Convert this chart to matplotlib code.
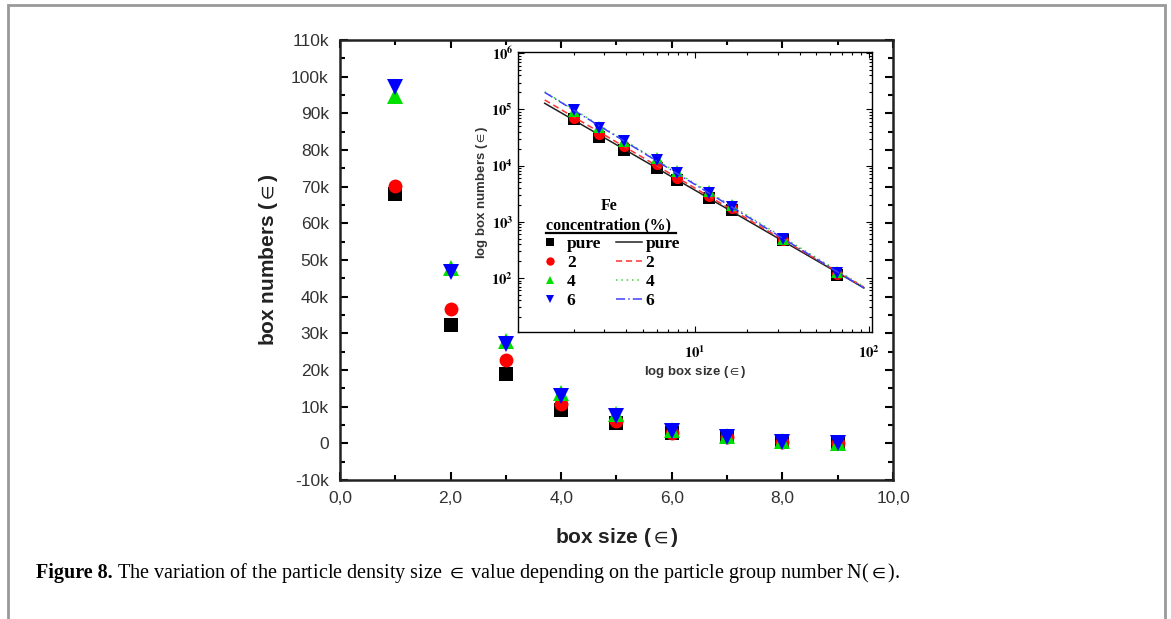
import numpy as np
import matplotlib.pyplot as plt
from matplotlib.lines import Line2D
from matplotlib.patches import Rectangle
from matplotlib.ticker import FixedLocator, MultipleLocator, FuncFormatter, LogLocator, NullFormatter

# box counting results for each Fe concentration
box_size = [1, 2, 3, 4, 5, 6, 7, 8, 9]
box_size_log = [2.0, 2.8, 3.9, 6.0, 7.9, 12.0, 16.4, 32.3, 66.0]
n_pure = [68000, 32300, 19000, 9000, 5500, 2700, 1650, 470, 115]
n_fe2 = [70300, 36500, 22600, 10800, 6000, 2900, 1750, 480, 120]
n_fe4 = [94800, 47700, 27800, 13800, 8000, 3500, 2000, 500, 128]
n_fe6 = [97300, 46800, 27000, 12800, 7500, 3300, 1850, 490, 125]
labels = ["pure", "2", "4", "6"]

series = [n_pure, n_fe2, n_fe4, n_fe6]
colors = ["black", "#ff0000", "#00e000", "#0000ff"]
markers = ["s", "o", "^", "v"]
line_colors = ["#202020", "#ff3030", "#40d040", "#4040ff"]
line_styles = ["-", (0, (4, 2.5)), (0, (1, 2.5)), (0, (6, 2, 1, 2))]

plt.rcParams['font.family'] = ['Liberation Sans', 'DejaVu Sans']
plt.rcParams['mathtext.fontset'] = 'stix'

fig = plt.figure(figsize=(11.71, 6.19), dpi=100)

# thin gray frame round the figure
fig.patches.append(Rectangle((0.007, -0.05), 0.988, 1.042, transform=fig.transFigure,
                             fill=False, edgecolor="#999999", lw=2))

ax = fig.add_axes([0.2903, 0.2246, 0.4723, 0.7108])
for y, c, m in zip(series, colors, markers):
    ax.plot(box_size, y, linestyle="none", marker=m, color=c, markersize=11 if m in "^v" else 10,
            markeredgewidth=0)

ax.set_xlim(0, 10)
ax.set_ylim(-10000, 110000)
ax.xaxis.set_major_locator(MultipleLocator(2))
ax.xaxis.set_minor_locator(MultipleLocator(1))
ax.yaxis.set_major_locator(MultipleLocator(10000))
ax.yaxis.set_minor_locator(MultipleLocator(5000))
ax.xaxis.set_major_formatter(FuncFormatter(lambda v, p: f"{v:.1f}".replace(".", ",")))
ax.yaxis.set_major_formatter(FuncFormatter(lambda v, p: "0" if v == 0 else f"{int(v / 1000)}k"))
ax.tick_params(which="both", direction="in", top=True, right=True, width=1.5, labelsize=12.5,
               labelcolor="#333333", pad=8)
ax.tick_params(which="major", length=6)
ax.tick_params(which="minor", length=3.5)
for s in ax.spines.values():
    s.set_linewidth(1.8)
    s.set_color("#222222")
ax.set_xlabel(r"box size ($\in$)", fontsize=15, fontweight="bold", color="#222222", labelpad=14)
ax.set_ylabel(r"box numbers ($\in$)", fontsize=15, fontweight="bold", color="#222222", labelpad=8)

# log-log inset with power law fits
ins = fig.add_axes([0.4424, 0.4637, 0.3023, 0.4523])
x_fit = np.logspace(np.log10(1.36), np.log10(94), 50)
for y, c, m, lc, ls in zip(series, colors, markers, line_colors, line_styles):
    ins.plot(box_size_log, y, linestyle="none", marker=m, color=c, markersize=8, markeredgewidth=0)
    k, b = np.polyfit(np.log10(box_size_log), np.log10(y), 1)
    ins.plot(x_fit, 10 ** (b + k * np.log10(x_fit)), color=lc, linestyle=ls, lw=1.1)

ins.set_xscale("log")
ins.set_yscale("log")
ins.set_xlim(10 ** -0.02, 10 ** 2.02)
ins.set_ylim(10 ** 1.04, 10 ** 6.02)
ins.xaxis.set_major_locator(FixedLocator([10, 100]))
ins.yaxis.set_major_locator(FixedLocator([1e2, 1e3, 1e4, 1e5, 1e6]))
ins.xaxis.set_minor_locator(LogLocator(subs=np.arange(2, 10)))
ins.yaxis.set_minor_locator(LogLocator(subs=np.arange(2, 10)))
ins.xaxis.set_minor_formatter(NullFormatter())
ins.yaxis.set_minor_formatter(NullFormatter())
ins.xaxis.set_major_formatter(FuncFormatter(lambda v, p: r"$\mathsf{\mathbf{10^{%d}}}$" % round(np.log10(v))))
ins.yaxis.set_major_formatter(FuncFormatter(lambda v, p: r"$\mathbf{10^{%d}}$" % round(np.log10(v))))
ins.tick_params(which="both", direction="in", top=True, right=True, labelsize=10.5, width=0.8)
ins.tick_params(axis="x", pad=9)
ins.tick_params(which="major", length=4)
ins.tick_params(which="minor", length=2)
for s in ins.spines.values():
    s.set_linewidth(1.0)
ins.set_xlabel(r"log box size ($\in$)", fontsize=9.5, fontweight="bold", color="#333333", labelpad=2)
ins.set_ylabel(r"log box numbers ($\in$)", fontsize=9.5, fontweight="bold", color="#333333", labelpad=1)

handles = [Line2D([], [], linestyle="none", marker=m, color=c, markersize=6, markeredgewidth=0)
           for c, m in zip(colors, markers)]
handles += [Line2D([], [], color=lc, linestyle=ls, lw=1.1) for lc, ls in zip(line_colors, line_styles)]
leg = ins.legend(handles, labels + labels, ncol=2, title="Fe\nconcentration (%)",
                 loc="upper left", bbox_to_anchor=(0.02, 0.522), frameon=False,
                 prop={"family": "Liberation Serif", "weight": "bold", "size": 12.5},
                 handlelength=1.5, handletextpad=0.2, columnspacing=0.85, labelspacing=0.16,
                 borderpad=0.2)
leg.get_title().set_fontfamily("Liberation Serif")
leg.get_title().set_fontweight("bold")
leg.get_title().set_fontsize(11.5)
leg.get_title().set_multialignment("center")
leg.get_title().set_linespacing(1.25)
ins.plot([0.079, 0.446], [0.352, 0.352], transform=ins.transAxes, color="black", lw=1.6)

fig.text(0.031, 0.074, "Figure 8.", fontfamily="Liberation Serif", fontweight="bold", fontsize=14.5,
         va="center")
fig.text(0.0995, 0.074, r"The variation of the particle density size $\in$ value depending on the "
         r"particle group number N($\in$).", fontfamily="Liberation Serif", fontsize=14.5,
         va="center")

fig.savefig("out.png", dpi=100)
